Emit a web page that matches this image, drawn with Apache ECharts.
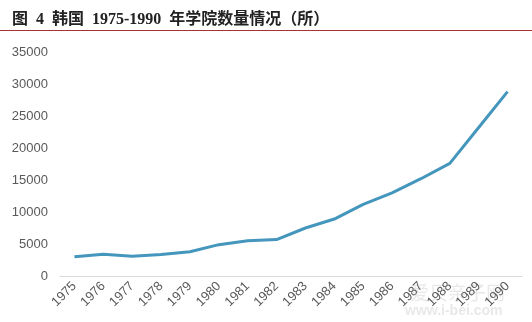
<!DOCTYPE html>
<html><head><meta charset="utf-8">
<script src="https://cdn.jsdelivr.net/npm/echarts@6/dist/echarts.min.js"></script>
<style>html,body{margin:0;padding:0;background:#fff}#c{width:532px;height:322px}</style>
</head><body><div id="c"></div>
<script>
const years = ['1975','1976','1977','1978','1979','1980','1981','1982','1983','1984','1985','1986','1987','1988','1989','1990'];
const colleges = [3000,3400,3100,3350,3800,4900,5500,5700,7500,8900,11200,13000,15200,17600,23200,28800];
const yTicks = {min:0, max:35000, interval:5000};
const titleText = '图  4  韩国  1975-1990  年学院数量情况（所）';
const chart = echarts.init(document.getElementById('c'));
chart.setOption({
  animation:false,
  title:{text:titleText,left:7,top:7,textStyle:{fontFamily:'Liberation Serif, Noto Sans CJK SC',fontSize:16,fontWeight:'bold',color:'#222'}},
  graphic:[
    {type:'line',shape:{x1:0,y1:30.5,x2:532,y2:30.5},style:{stroke:'#a83232',lineWidth:1}},
    {type:'text',left:410,top:283,style:{text:'爱贝亲子网',fontSize:19,fill:'rgba(150,150,150,0.22)',fontFamily:'Noto Sans CJK SC'}},
    {type:'text',left:405,top:304,style:{text:'www.i-bei.com',fontSize:14,fontWeight:'bold',fill:'rgba(150,150,150,0.22)',fontFamily:'Liberation Sans'}}
  ],
  grid:{left:60,right:10,top:52,bottom:46},
  xAxis:{type:'category',data:years,boundaryGap:true,
    axisLine:{lineStyle:{color:'#d9d9d9'}},axisTick:{show:false},
    axisLabel:{rotate:45,color:'#595959',fontSize:13,fontFamily:'Liberation Sans',interval:0,margin:8}},
  yAxis:{type:'value',min:yTicks.min,max:yTicks.max,interval:yTicks.interval,
    axisLine:{show:false},axisTick:{show:false},splitLine:{show:false},
    axisLabel:{color:'#595959',fontSize:13,fontFamily:'Liberation Sans',margin:12,formatter:v=>String(v)}},
  series:[{type:'line',data:colleges,symbol:'none',lineStyle:{color:'#4596bd',width:3}}]
});
</script></body></html>
